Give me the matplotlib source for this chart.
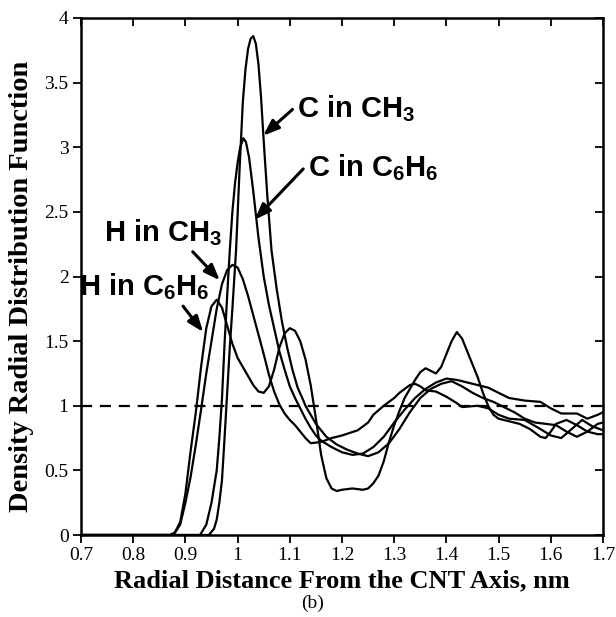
import matplotlib
matplotlib.use("Agg")
import matplotlib.pyplot as plt

# H in C6H6
x_h_c6h6 = [0.87, 0.88, 0.89, 0.90, 0.91, 0.92, 0.93, 0.94, 0.95, 0.96, 0.97, 0.98, 0.99, 1.00,
            1.01, 1.02, 1.03, 1.04, 1.05, 1.06, 1.07, 1.08, 1.09, 1.10, 1.11, 1.12, 1.13, 1.14,
            1.15, 1.16, 1.17, 1.18, 1.19, 1.20, 1.22, 1.24, 1.25, 1.26, 1.27, 1.28, 1.29, 1.30,
            1.31, 1.32, 1.33, 1.34, 1.35, 1.36, 1.37, 1.38, 1.39, 1.40, 1.41, 1.42, 1.43, 1.44,
            1.45, 1.46, 1.47, 1.48, 1.49, 1.50, 1.52, 1.54, 1.56, 1.58, 1.59, 1.60, 1.61, 1.63,
            1.65, 1.67, 1.69, 1.70]
y_h_c6h6 = [0.00, 0.02, 0.10, 0.32, 0.65, 0.95, 1.30, 1.60, 1.77, 1.82, 1.76, 1.62, 1.48, 1.37,
            1.30, 1.23, 1.16, 1.11, 1.10, 1.15, 1.28, 1.45, 1.56, 1.60, 1.58, 1.50, 1.36, 1.16,
            0.90, 0.62, 0.44, 0.36, 0.34, 0.35, 0.36, 0.35, 0.36, 0.40, 0.46, 0.57, 0.72, 0.85,
            0.96, 1.06, 1.13, 1.20, 1.26, 1.29, 1.27, 1.25, 1.30, 1.40, 1.50, 1.57, 1.52, 1.42,
            1.32, 1.22, 1.10, 1.00, 0.93, 0.90, 0.88, 0.86, 0.82, 0.76, 0.75, 0.80, 0.86, 0.89,
            0.85, 0.80, 0.78, 0.78]

# H in CH3
x_h_ch3 = [0.877, 0.89, 0.90, 0.91, 0.92, 0.93, 0.94, 0.95, 0.96, 0.97, 0.98, 0.99, 1.00, 1.01,
           1.02, 1.03, 1.04, 1.05, 1.06, 1.07, 1.08, 1.09, 1.10, 1.11, 1.12, 1.13, 1.14, 1.16,
           1.18, 1.20, 1.23, 1.25, 1.26, 1.28, 1.30, 1.31, 1.33, 1.34, 1.35, 1.36, 1.38, 1.40,
           1.42, 1.43, 1.46, 1.48, 1.50, 1.52, 1.55, 1.58, 1.60, 1.62, 1.64, 1.66, 1.68, 1.70]
y_h_ch3 = [0.00, 0.08, 0.25, 0.45, 0.70, 0.97, 1.25, 1.50, 1.75, 1.94, 2.05, 2.09, 2.07, 1.98,
           1.85, 1.70, 1.55, 1.40, 1.24, 1.11, 1.01, 0.94, 0.89, 0.85, 0.80, 0.75, 0.71, 0.72,
           0.75, 0.77, 0.81, 0.87, 0.93, 1.00, 1.06, 1.10, 1.16, 1.17, 1.15, 1.12, 1.11, 1.07,
           1.02, 0.99, 1.00, 0.98, 0.93, 0.90, 0.89, 0.82, 0.77, 0.75, 0.82, 0.89, 0.84, 0.81]

# C in C6H6
x_c_c6h6 = [0.928, 0.94, 0.95, 0.96, 0.965, 0.97, 0.975, 0.98, 0.985, 0.99, 0.995, 1.00, 1.005,
            1.011, 1.016, 1.022, 1.03, 1.04, 1.05, 1.06, 1.07, 1.08, 1.09, 1.10, 1.11, 1.12, 1.13,
            1.14, 1.15, 1.16, 1.18, 1.20, 1.22, 1.24, 1.26, 1.28, 1.30, 1.32, 1.34, 1.36, 1.38,
            1.40, 1.42, 1.44, 1.46, 1.48, 1.50, 1.52, 1.55, 1.58, 1.60, 1.62, 1.65, 1.67, 1.69,
            1.70]
y_c_c6h6 = [0.00, 0.08, 0.25, 0.50, 0.75, 1.05, 1.48, 1.85, 2.20, 2.50, 2.72, 2.88, 3.00,
            3.07, 3.04, 2.92, 2.66, 2.30, 2.00, 1.78, 1.60, 1.42, 1.28, 1.15, 1.06, 0.98, 0.90,
            0.83, 0.77, 0.73, 0.68, 0.64, 0.62, 0.63, 0.68, 0.76, 0.87, 0.97, 1.06, 1.13, 1.18,
            1.21, 1.20, 1.18, 1.16, 1.14, 1.10, 1.06, 1.04, 1.03, 0.98, 0.94, 0.94, 0.90, 0.93,
            0.95]

# C in CH3
x_c_ch3 = [0.945, 0.955, 0.96, 0.965, 0.97, 0.975, 0.98, 0.985, 0.99, 0.997, 1.004, 1.010,
           1.015, 1.020, 1.025, 1.030, 1.035, 1.040, 1.045, 1.050, 1.057, 1.065, 1.075, 1.085,
           1.095, 1.105, 1.115, 1.125, 1.13, 1.14, 1.15, 1.17, 1.19, 1.21, 1.23, 1.25, 1.27,
           1.29, 1.31, 1.33, 1.35, 1.37, 1.39, 1.41, 1.43, 1.45, 1.47, 1.49, 1.51, 1.53, 1.55,
           1.57, 1.59, 1.61, 1.63, 1.65, 1.67, 1.69, 1.70]
y_c_ch3 = [0.00, 0.05, 0.12, 0.25, 0.42, 0.75, 1.10, 1.45, 1.75, 2.20, 2.85, 3.35,
           3.60, 3.76, 3.84, 3.86, 3.80, 3.64, 3.38, 3.05, 2.62, 2.20, 1.90, 1.65,
           1.45, 1.28, 1.14, 1.05, 1.00, 0.93, 0.86, 0.76, 0.70, 0.66, 0.63, 0.61, 0.64,
           0.71, 0.82, 0.95, 1.06, 1.13, 1.17, 1.19, 1.15, 1.10, 1.06, 1.03, 0.99, 0.95, 0.90,
           0.87, 0.86, 0.85, 0.80, 0.76, 0.80, 0.86, 0.87]

x_ticks = [0.7, 0.8, 0.9, 1.0, 1.1, 1.2, 1.3, 1.4, 1.5, 1.6, 1.7]
x_ticklabels = ["0.7", "0.8", "0.9", "1", "1.1", "1.2", "1.3", "1.4", "1.5", "1.6", "1.7"]
y_ticks = [0, 0.5, 1, 1.5, 2, 2.5, 3, 3.5, 4]
y_ticklabels = ["0", "0.5", "1", "1.5", "2", "2.5", "3", "3.5", "4"]

serif = ["Liberation Serif", "DejaVu Serif"]
sans = ["Liberation Sans", "DejaVu Sans"]
plt.rcParams["mathtext.fontset"] = "custom"
plt.rcParams["mathtext.rm"] = "Liberation Sans:bold"
plt.rcParams["mathtext.it"] = "Liberation Sans:bold"
plt.rcParams["mathtext.bf"] = "Liberation Sans:bold"

fig = plt.figure(figsize=(6.16, 6.17), dpi=100)
ax = fig.add_axes([81 / 616, 1 - 535 / 617, 522 / 616, 517 / 617])

lw = 1.6
for xs, ys in [(x_h_c6h6, y_h_c6h6), (x_h_ch3, y_h_ch3), (x_c_c6h6, y_c_c6h6), (x_c_ch3, y_c_ch3)]:
    ax.plot([0.7] + xs, [0.0] + ys, color="black", lw=lw, solid_joinstyle="round")

ax.axhline(1.0, color="black", lw=1.6, ls=(0, (5, 3.5)))

ax.set_xlim(0.7, 1.7)
ax.set_ylim(0, 4)
ax.set_xticks(x_ticks)
ax.set_xticklabels(x_ticklabels, fontfamily=serif, fontsize=14)
ax.set_yticks(y_ticks)
ax.set_yticklabels(y_ticklabels, fontfamily=serif, fontsize=14)
ax.tick_params(axis="both", direction="out", length=6, width=1.3, pad=3)
ax.tick_params(top=True, right=True)
for t in ax.xaxis.get_major_ticks():
    t.tick2line.set_marker(3)
for t in ax.yaxis.get_major_ticks():
    t.tick2line.set_marker(0)
for sp in ax.spines.values():
    sp.set_linewidth(1.8)

ax.set_xlabel("Radial Distance From the CNT Axis, nm", fontfamily=serif, fontsize=19,
              fontweight="bold")
ax.xaxis.set_label_coords(0.5, -(581 - 535) / 517)
ax.xaxis.label.set_va("center")
ax.set_ylabel("Density Radial Distribution Function", fontfamily=serif, fontsize=20.5,
              fontweight="bold")
ax.yaxis.set_label_coords(-(81 - 22) / 522, (535 - 286) / 517)
ax.yaxis.label.set_va("center")
fig.text(313 / 616, 1 - 603 / 617, "(b)", ha="center", va="center", fontfamily=serif, fontsize=14)

tkw = dict(fontfamily=sans, fontsize=21, fontweight="bold", va="center")
akw = dict(arrowstyle="-|>,head_length=0.45,head_width=0.17", color="black", lw=2.2,
           shrinkA=1, shrinkB=0)
ax.annotate("C in CH$_3$", xy=(1.049, 3.09), xytext=(1.114, 3.30), ha="left",
            arrowprops=dict(akw, relpos=(-0.03, 0.5)), **tkw)
ax.annotate("C in C$_6$H$_6$", xy=(1.033, 2.44), xytext=(1.135, 2.84), ha="left",
            arrowprops=dict(akw, relpos=(-0.03, 0.5)), **tkw)
ax.annotate("H in CH$_3$", xy=(0.966, 1.97), xytext=(0.858, 2.34), ha="center",
            arrowprops=dict(akw, relpos=(0.73, -0.05)), **tkw)
ax.annotate("H in C$_6$H$_6$", xy=(0.934, 1.57), xytext=(0.697, 1.92), ha="left",
            arrowprops=dict(akw, relpos=(0.78, -0.05)), **tkw)

fig.savefig("out.png", dpi=100)
